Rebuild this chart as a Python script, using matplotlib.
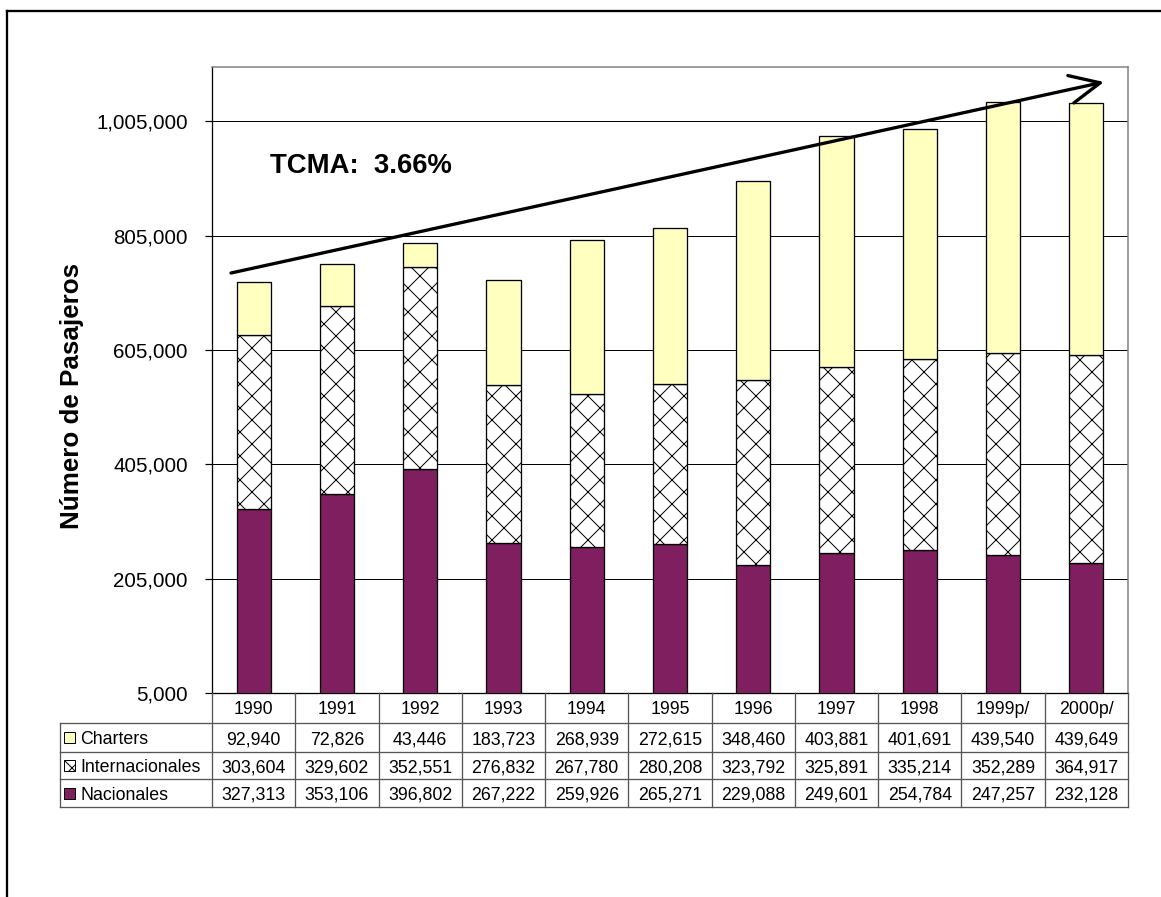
import matplotlib
matplotlib.use('Agg')
import matplotlib.pyplot as plt
from matplotlib.patches import Rectangle
import numpy as np

plt.rcParams['font.family'] = ['Liberation Sans', 'DejaVu Sans']
plt.rcParams['hatch.linewidth'] = 1.0

# ---------------- data ----------------
years = ['1990', '1991', '1992', '1993', '1994', '1995', '1996', '1997', '1998', '1999p/', '2000p/']
charters = [92940, 72826, 43446, 183723, 268939, 272615, 348460, 403881, 401691, 439540, 439649]
internacionales = [303604, 329602, 352551, 276832, 267780, 280208, 323792, 325891, 335214, 352289, 364917]
nacionales = [327313, 353106, 396802, 267222, 259926, 265271, 229088, 249601, 254784, 247257, 232128]
series_names = ['Charters', 'Internacionales', 'Nacionales']
yticks = [5000, 205000, 405000, 605000, 805000, 1005000]
ylabel_text = 'Número de Pasajeros'
tcma_text = 'TCMA:  3.66%'

# ---------------- layout (pixels) ----------------
W, H = 1161, 897
DPI = 72
ax_l, ax_r, ax_t, ax_b = 212, 1128, 67, 693
colw = (ax_r - ax_l) / len(years)
row_lines = [723.3, 751.7, 779.3, 807.3]
tab_left = 60

col_char = '#FFFFC0'
col_nac = '#7F1F5F'

fig = plt.figure(figsize=(W / DPI, H / DPI), dpi=DPI)
ax = fig.add_axes([ax_l / W, 1 - ax_b / H, (ax_r - ax_l) / W, (ax_b - ax_t) / H])

x = np.arange(len(years))
nac = np.array(nacionales)
inter = np.array(internacionales)
cha = np.array(charters)
bw = 0.41
ax.bar(x, nac, bw, color=col_nac, edgecolor='black', linewidth=1.3, zorder=3)
ax.bar(x, inter, bw, bottom=nac, color='white', edgecolor='black', hatch='x', linewidth=1.3, zorder=3)
ax.bar(x, cha, bw, bottom=nac + inter, color=col_char, edgecolor='black', linewidth=1.3, zorder=3)

ax.set_xlim(-0.5, len(years) - 0.5)
ax.set_ylim(5000, 1100000)
ax.set_yticks(yticks)
ax.set_yticklabels([f'{v:,}' for v in yticks], fontsize=20.5)
ax.tick_params(axis='y', direction='out', length=7, width=1.2, pad=17, colors='black')
ax.set_xticks([])
ax.yaxis.grid(True, color='black', linewidth=1.0, zorder=0)
ax.set_axisbelow(True)
for s in ['top', 'right']:
    ax.spines[s].set_color('#808080')
    ax.spines[s].set_linewidth(1.5)
for s in ['left', 'bottom']:
    ax.spines[s].set_color('black')
    ax.spines[s].set_linewidth(1.3)

# ---------------- overlay in pixel coordinates ----------------
ov = fig.add_axes([0, 0, 1, 1])
ov.set_xlim(0, W)
ov.set_ylim(H, 0)
ov.axis('off')
ov.patch.set_alpha(0)

# outer frame (clipped at right/bottom)
ov.plot([7.3, W + 5], [11, 11], color='black', lw=2.3, solid_capstyle='projecting')
ov.plot([7.3, 7.3], [11, H + 5], color='black', lw=2.3, solid_capstyle='projecting')

# data table
lc = '#555555'
for y in row_lines:
    ov.plot([tab_left, ax_r], [y, y], color=lc, lw=1.3)
ov.plot([tab_left, tab_left], [row_lines[0], row_lines[-1]], color=lc, lw=1.3)
for k in range(len(years) + 1):
    xx = ax_l + k * colw
    ov.plot([xx, xx], [ax_b, row_lines[-1]], color=lc, lw=1.3)

fs_tab = 17.8
for i, yr in enumerate(years):
    ov.text(ax_l + (i + 0.5) * colw, 714.5, yr, ha='center', va='baseline', fontsize=fs_tab)

rows = [charters, internacionales, nacionales]
styles = [dict(facecolor=col_char, hatch=None), dict(facecolor='white', hatch='x'), dict(facecolor=col_nac, hatch=None)]
for r, (name, vals, st) in enumerate(zip(series_names, rows, styles)):
    yc = (row_lines[r] + row_lines[r + 1]) / 2
    base = yc + 6.6
    for i, v in enumerate(vals):
        ov.text(ax_l + (i + 0.5) * colw, base, f'{v:,}', ha='center', va='baseline', fontsize=fs_tab)
    ov.add_patch(Rectangle((64, yc - 5.5), 11, 11, facecolor=st['facecolor'], hatch=st['hatch'],
                           edgecolor='black', linewidth=1.0))
    ov.text(80, base, name, ha='left', va='baseline', fontsize=fs_tab)

# y label
ov.text(72, 396, ylabel_text, rotation=90, ha='center', va='center', fontsize=26, fontweight='bold')

# TCMA annotation and trend arrow
ov.text(270, 173.3, tcma_text, ha='left', va='baseline', fontsize=27.5, fontweight='bold')
ov.annotate('', xy=(1104, 82), xytext=(231, 273), xycoords='data',
            arrowprops=dict(arrowstyle='->,head_length=30,head_width=14', mutation_scale=1,
                            lw=3.3, color='black', shrinkA=0, shrinkB=0))

fig.savefig('out.png', dpi=DPI)
